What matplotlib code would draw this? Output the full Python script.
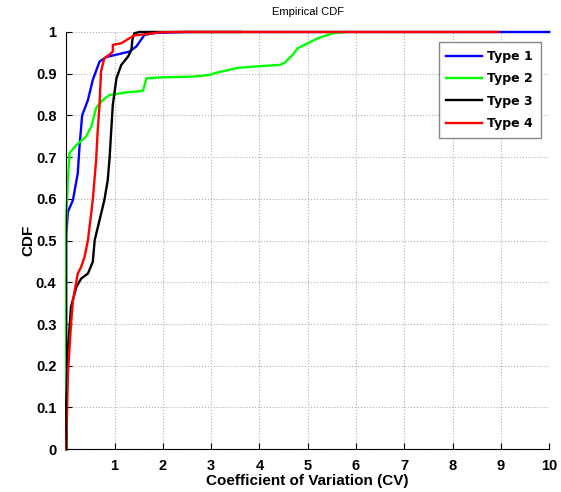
import numpy as np
import matplotlib
matplotlib.use("Agg")
import matplotlib.pyplot as plt

# Curvas (x = CV, y = CDF)
x1 = [0, 0, 0.035, 0.14, 0.24, 0.275, 0.33, 0.45, 0.55, 0.69, 0.83, 1.31, 1.45, 1.62, 1.86, 2.5, 10]
y1 = [0, 0.51, 0.569, 0.597, 0.662, 0.725, 0.80, 0.837, 0.885, 0.929, 0.94, 0.953, 0.965, 0.993, 0.998, 1.0, 1.0]

x2 = [0, 0, 0.035, 0.07, 0.21, 0.41, 0.52, 0.62, 0.76, 0.9, 1.24, 1.59, 1.66, 1.93, 2.62, 2.97, 3.1,
      3.55, 4.0, 4.42, 4.52, 4.69, 4.79, 5.0, 5.21, 5.52, 5.8]
y2 = [0, 0.55, 0.645, 0.71, 0.729, 0.749, 0.773, 0.818, 0.837, 0.849, 0.855, 0.859, 0.889, 0.891, 0.893,
      0.897, 0.902, 0.914, 0.918, 0.921, 0.926, 0.945, 0.961, 0.973, 0.985, 0.997, 1.0]

x3 = [0, 0, 0.035, 0.1, 0.21, 0.31, 0.45, 0.55, 0.59, 0.69, 0.79, 0.86, 0.9, 0.93, 0.965, 1.04, 1.14,
      1.28, 1.35, 1.37, 1.41, 1.52, 3.62]
y3 = [0, 0.1, 0.237, 0.341, 0.389, 0.409, 0.421, 0.449, 0.501, 0.549, 0.597, 0.645, 0.701, 0.76, 0.825,
      0.889, 0.921, 0.941, 0.957, 0.981, 0.997, 1.0, 1.0]

x4 = [0, 0.01, 0.035, 0.1, 0.14, 0.24, 0.31, 0.38, 0.45, 0.55, 0.62, 0.65, 0.69, 0.72, 0.79, 0.93,
      0.965, 0.965, 1.14, 1.31, 1.41, 1.59, 1.93, 2.3, 8.94]
y4 = [0, 0.05, 0.18, 0.30, 0.357, 0.421, 0.437, 0.461, 0.501, 0.597, 0.693, 0.76, 0.825, 0.905, 0.937,
      0.949, 0.953, 0.969, 0.973, 0.985, 0.992, 0.994, 0.999, 1.0, 1.0]

etiquetas = ["Type 1", "Type 2", "Type 3", "Type 4"]
colores = ["#0000ff", "#00ff00", "#000000", "#ff0000"]

fig = plt.figure(figsize=(5.61, 4.92), dpi=100)
ax = fig.add_axes([0.118, 0.087, 0.861, 0.848])

for xs, ys, lab, c in zip([x1, x2, x3, x4], [y1, y2, y3, y4], etiquetas, colores):
	ax.plot(xs, ys, color=c, lw=1.7, label=lab, clip_on=False)

ax.set_xlim(0, 10) ; ax.set_ylim(0, 1)
ax.set_xticks(np.arange(0, 11))
ax.set_xticklabels([""] + [str(i) for i in range(1, 11)])
ax.set_yticks(np.arange(0, 1.01, 0.1))
ax.set_yticklabels(["0"] + [f"{v:.1f}" for v in np.arange(0.1, 1.0, 0.1)] + ["1"])
ax.tick_params(direction="in", length=4, width=0.8, pad=7)
for t in ax.get_xticklabels() + ax.get_yticklabels():
	t.set_fontfamily("Liberation Sans") ; t.set_fontweight("bold") ; t.set_fontsize(10.5)

ax.grid(True, linestyle=":", color="#b0b0b0", lw=0.8)
ax.spines["top"].set_visible(False) ; ax.spines["right"].set_visible(False)

ax.set_title("Empirical CDF", fontsize=8, fontfamily="Liberation Sans", pad=12)
ax.set_xlabel("Coefficient of Variation (CV)", fontsize=11, fontweight="bold",
			  fontfamily="Liberation Sans", labelpad=1)
ax.set_ylabel("CDF", fontsize=11, fontweight="bold", fontfamily="Liberation Sans", labelpad=0)

leg = ax.legend(loc="upper right", bbox_to_anchor=(0.995, 0.99), fancybox=False, framealpha=1,
				edgecolor="#888888", handlelength=2.9, handletextpad=0.4, borderpad=0.6,
				labelspacing=0.75, prop={"family": "DejaVu Sans", "weight": "bold", "size": 9})
leg.get_frame().set_linewidth(1.0)

fig.savefig("out.png", dpi=100)
